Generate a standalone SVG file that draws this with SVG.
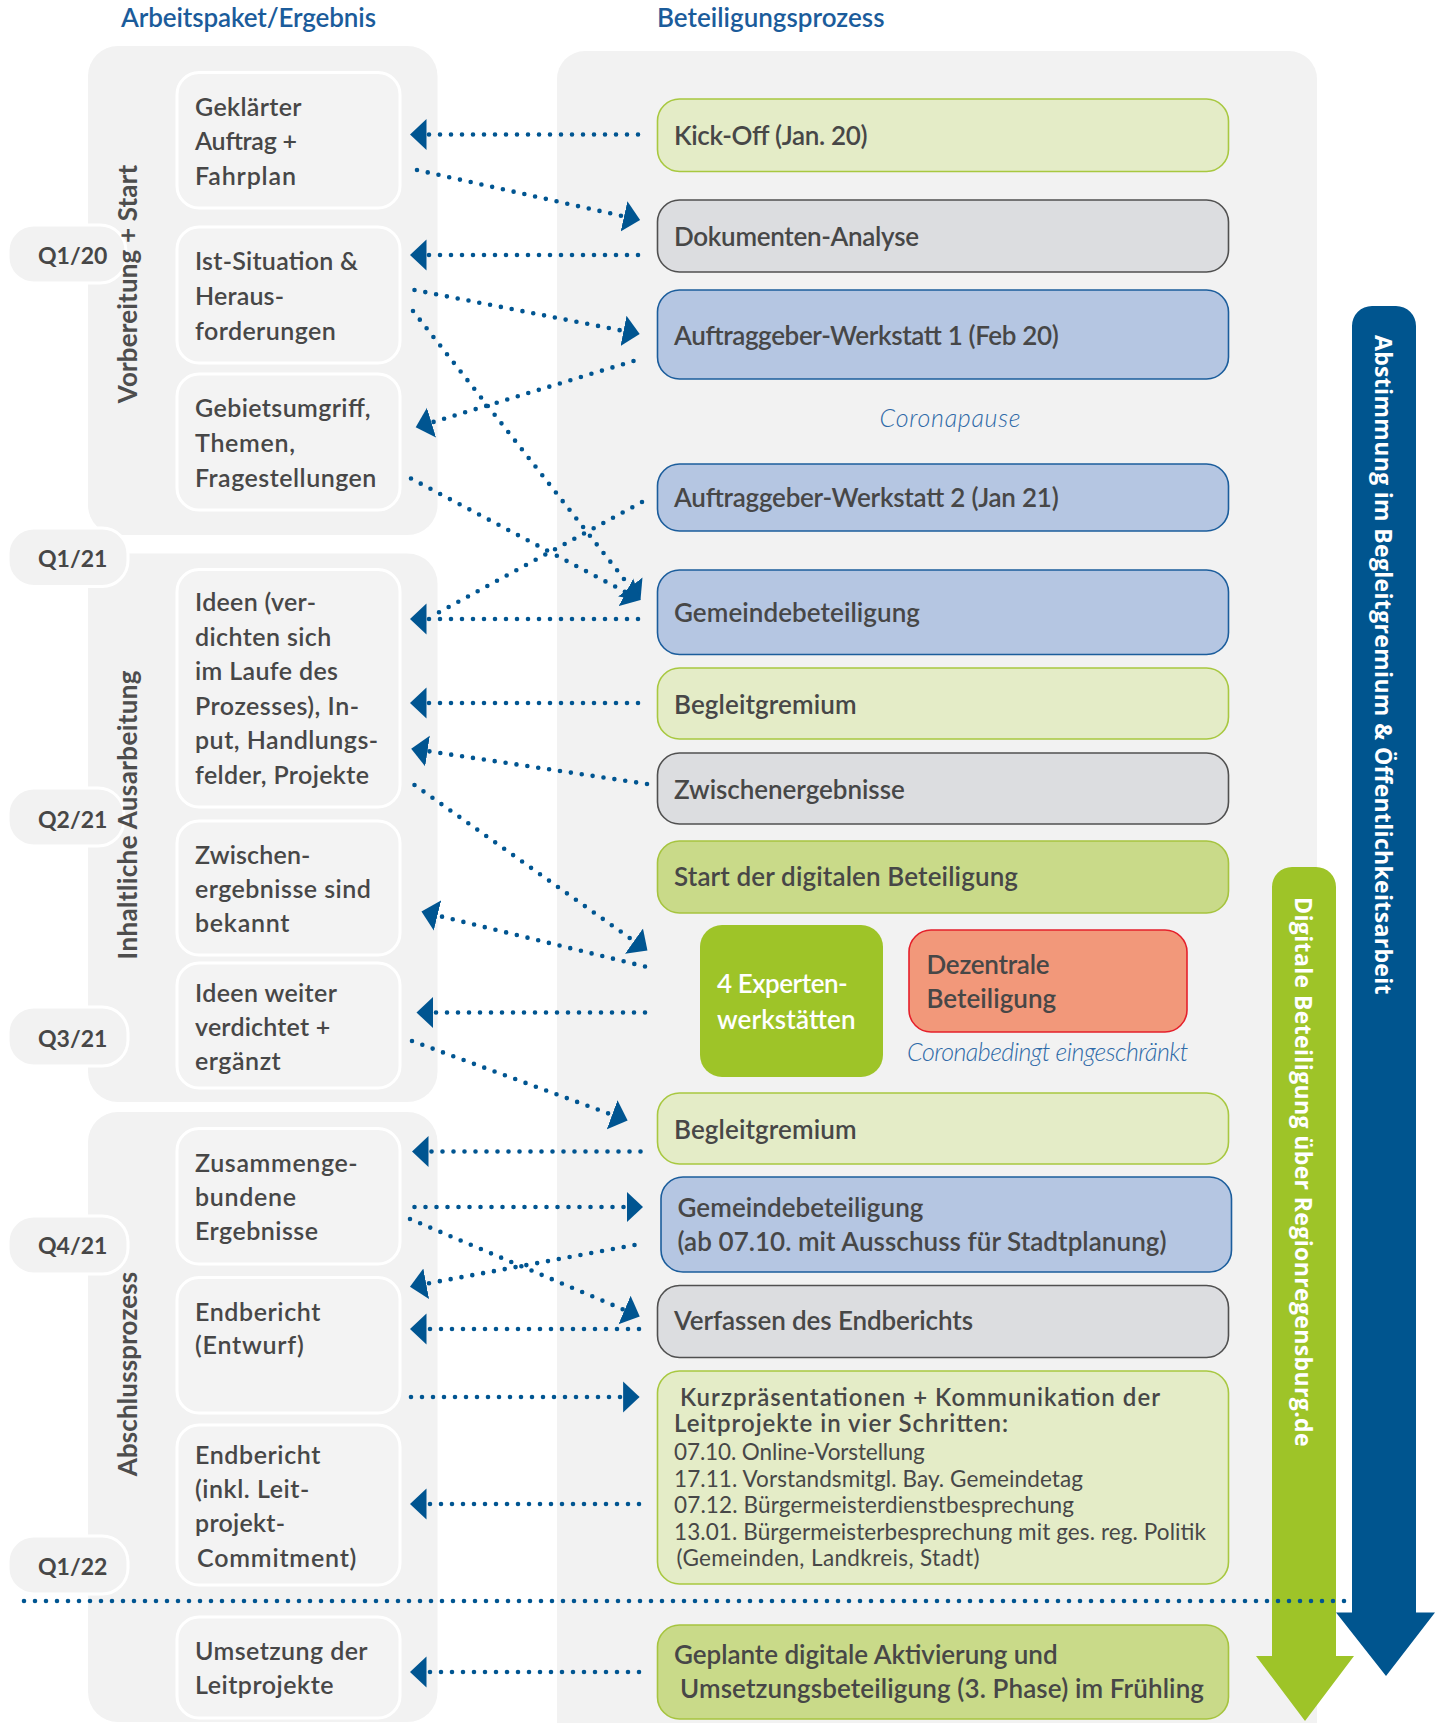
<svg xmlns="http://www.w3.org/2000/svg" width="1441" height="1723" viewBox="0 0 1441 1723">
  <defs>
    <style>
      .panel { fill: #f2f2f2; }
      .tab { fill: #f2f2f2; stroke: #ffffff; stroke-width: 3; }
      .lbox { fill: #f3f3f3; stroke: #ffffff; stroke-width: 3; }
      .lgreen { fill: #e4ecc7; stroke: #a8c840; stroke-width: 1.6; }
      .mgreen { fill: #c9da89; stroke: #a6c43f; stroke-width: 1.6; }
      .dgreen { fill: #9ec428; }
      .grey { fill: #dcdde0; stroke: #505050; stroke-width: 1.6; }
      .blue { fill: #b5c6e2; stroke: #1b5d9c; stroke-width: 1.6; }
      .salmon { fill: #f2987a; stroke: #e5202b; stroke-width: 1.6; }
      text { font-family: Lato, "Liberation Sans", sans-serif; fill: #474747; }
      .title { font-size: 26px; font-weight: 600; fill: #1b5c9b; }
      .lt { font-size: 25px; font-weight: 600; }
      .rt { font-size: 26px; font-weight: 600; }
      .rb { font-size: 24px; font-weight: 600; }
      .q { font-size: 23px; font-weight: 700; }
      .phase { font-size: 26px; font-weight: 700; fill: #4d4d4d; }
      .small { font-size: 22.5px; font-weight: 400; }
      .note { font-size: 25px; font-weight: 300; font-style: italic; fill: #2f6aa8; }
      .white { fill: #ffffff; }
      .band { font-family: "Open Sans", Lato, sans-serif; font-size: 23px; font-weight: 700; fill: #ffffff; }
      .dot { fill: none; stroke: #005591; stroke-width: 4.6; stroke-linecap: round; stroke-dasharray: 0 11; }
    </style>
    <marker id="ah" markerUnits="userSpaceOnUse" viewBox="0 0 17 32" markerWidth="17" markerHeight="32" refX="0.5" refY="16" orient="auto">
      <path d="M0,0.5 L16.5,16 L0,31.5 z" fill="#005591"/>
    </marker>
  </defs>

  <!-- column headings -->
  <text class="title" x="121" y="27" textLength="255">Arbeitspaket/Ergebnis</text>
  <text class="title" x="657" y="27" textLength="227.5">Beteiligungsprozess</text>

  <!-- background panels -->
  <rect class="panel" x="88" y="46" width="349.5" height="489" rx="30"/>
  <rect class="panel" x="88" y="553.5" width="349.5" height="548.5" rx="30"/>
  <rect class="panel" x="88" y="1112" width="349.5" height="610" rx="30"/>
  <rect class="panel" x="557" y="51" width="760" height="1700" rx="28"/>

  <!-- quarter tabs -->
  <g id="quarters">
    <rect class="tab" x="8" y="225" width="118" height="58" rx="26"/>
    <text class="q" x="38" y="264">Q1/20</text>
    <rect class="tab" x="8" y="528" width="120" height="58.5" rx="26"/>
    <text class="q" x="38" y="567">Q1/21</text>
    <rect class="tab" x="8" y="788" width="116" height="58" rx="26"/>
    <text class="q" x="38" y="827.5">Q2/21</text>
    <rect class="tab" x="8" y="1007" width="120" height="59" rx="26"/>
    <text class="q" x="38" y="1047">Q3/21</text>
    <rect class="tab" x="8" y="1216" width="120" height="58" rx="26"/>
    <text class="q" x="38" y="1254">Q4/21</text>
    <rect class="tab" x="8" y="1536" width="120" height="58" rx="26"/>
    <text class="q" x="38" y="1575">Q1/22</text>
  </g>

  <!-- phase labels -->
  <g id="phases">
    <text class="phase" transform="translate(137 284) rotate(-90)" text-anchor="middle" textLength="238.5">Vorbereitung + Start</text>
    <text class="phase" transform="translate(137 815) rotate(-90)" text-anchor="middle" textLength="289">Inhaltliche Ausarbeitung</text>
    <text class="phase" transform="translate(137 1374) rotate(-90)" text-anchor="middle" textLength="204.5">Abschlussprozess</text>
  </g>

  <!-- work packages / results -->
  <g id="wp-auftrag">
    <rect class="lbox" x="177" y="72.5" width="223" height="135.5" rx="22"/>
    <text class="lt" x="195" y="115.5" textLength="106.5">Geklärter</text>
    <text class="lt" x="195" y="150" textLength="102">Auftrag +</text>
    <text class="lt" x="195" y="184.5" textLength="101">Fahrplan</text>
  </g>
  <g id="wp-ist">
    <rect class="lbox" x="177" y="227" width="223" height="136" rx="22"/>
    <text class="lt" x="195" y="269.5" textLength="163">Ist-Situation &amp;</text>
    <text class="lt" x="195" y="304.5" textLength="89">Heraus-</text>
    <text class="lt" x="195" y="339.5" textLength="140.7">forderungen</text>
  </g>
  <g id="wp-gebiet">
    <rect class="lbox" x="177" y="374" width="223" height="136" rx="22"/>
    <text class="lt" x="195" y="417" textLength="175.4">Gebietsumgriff,</text>
    <text class="lt" x="195" y="452" textLength="100">Themen,</text>
    <text class="lt" x="195" y="486.5" textLength="181.4">Fragestellungen</text>
  </g>
  <g id="wp-ideen">
    <rect class="lbox" x="177" y="569.5" width="223" height="237.5" rx="22"/>
    <text class="lt" x="195" y="611" textLength="121">Ideen (ver-</text>
    <text class="lt" x="195" y="645.5" textLength="136.3">dichten sich</text>
    <text class="lt" x="195" y="680" textLength="143">im Laufe des</text>
    <text class="lt" x="195" y="714.5" textLength="164">Prozesses), In-</text>
    <text class="lt" x="195" y="749" textLength="183.2">put, Handlungs-</text>
    <text class="lt" x="195" y="783.5" textLength="174">felder, Projekte</text>
  </g>
  <g id="wp-zwischen">
    <rect class="lbox" x="177" y="821" width="223" height="134" rx="22"/>
    <text class="lt" x="195" y="864" textLength="115.4">Zwischen-</text>
    <text class="lt" x="195" y="898" textLength="175.8">ergebnisse sind</text>
    <text class="lt" x="195" y="932" textLength="94.5">bekannt</text>
  </g>
  <g id="wp-verdichtet">
    <rect class="lbox" x="177" y="963" width="223" height="125" rx="22"/>
    <text class="lt" x="195" y="1002" textLength="141.9">Ideen weiter</text>
    <text class="lt" x="195" y="1036" textLength="135.2">verdichtet +</text>
    <text class="lt" x="195" y="1070" textLength="85.7">ergänzt</text>
  </g>
  <g id="wp-zusammen">
    <rect class="lbox" x="177" y="1128.5" width="223" height="135.5" rx="22"/>
    <text class="lt" x="195" y="1171.5" textLength="162.7">Zusammenge-</text>
    <text class="lt" x="195" y="1206" textLength="101">bundene</text>
    <text class="lt" x="195" y="1240" textLength="123">Ergebnisse</text>
  </g>
  <g id="wp-entwurf">
    <rect class="lbox" x="177" y="1277.5" width="223" height="135.5" rx="22"/>
    <text class="lt" x="195" y="1320.5" textLength="125.3">Endbericht</text>
    <text class="lt" x="195" y="1354" textLength="108.8">(Entwurf)</text>
  </g>
  <g id="wp-endbericht">
    <rect class="lbox" x="177" y="1425" width="223" height="160" rx="22"/>
    <text class="lt" x="195" y="1463.5" textLength="125.3">Endbericht</text>
    <text class="lt" x="195" y="1498" textLength="114.3">(inkl. Leit-</text>
    <text class="lt" x="195" y="1532" textLength="90">projekt-</text>
    <text class="lt" x="197" y="1567" textLength="159.4">Commitment)</text>
  </g>
  <g id="wp-umsetzung">
    <rect class="lbox" x="177" y="1617" width="223" height="101" rx="22"/>
    <text class="lt" x="195" y="1660" textLength="172.6">Umsetzung der</text>
    <text class="lt" x="195" y="1694" textLength="138.5">Leitprojekte</text>
  </g>

  <!-- participation steps -->
  <g id="kickoff">
    <rect class="lgreen" x="657.5" y="99" width="571" height="72.5" rx="22"/>
    <text class="rt" x="674" y="144.5" textLength="193.5">Kick-Off (Jan. 20)</text>
  </g>
  <g id="dokumente">
    <rect class="grey" x="657.5" y="200" width="571" height="72" rx="22"/>
    <text class="rt" x="674" y="245.5" textLength="245">Dokumenten-Analyse</text>
  </g>
  <g id="werkstatt1">
    <rect class="blue" x="657.5" y="290" width="571" height="89" rx="22"/>
    <text class="rt" x="674" y="344.5" textLength="384.7">Auftraggeber-Werkstatt 1 (Feb 20)</text>
  </g>
  <text class="note" x="950" y="427" text-anchor="middle" textLength="141">Coronapause</text>
  <g id="werkstatt2">
    <rect class="blue" x="657.5" y="464" width="571" height="67" rx="22"/>
    <text class="rt" x="674" y="507" textLength="384.7">Auftraggeber-Werkstatt 2 (Jan 21)</text>
  </g>
  <g id="gemeinde1">
    <rect class="blue" x="657.5" y="570" width="571" height="84.5" rx="22"/>
    <text class="rt" x="674" y="622" textLength="246">Gemeindebeteiligung</text>
  </g>
  <g id="begleit1">
    <rect class="lgreen" x="657.5" y="668" width="571" height="71" rx="22"/>
    <text class="rt" x="674" y="714" textLength="182.5">Begleitgremium</text>
  </g>
  <g id="zwischenergebnisse">
    <rect class="grey" x="657.5" y="753" width="571" height="71" rx="22"/>
    <text class="rt" x="674" y="799" textLength="230.8">Zwischenergebnisse</text>
  </g>
  <g id="digital-start">
    <rect class="mgreen" x="657.5" y="841" width="571" height="72" rx="22"/>
    <text class="rt" x="674" y="886" textLength="344">Start der digitalen Beteiligung</text>
  </g>
  <g id="experten">
    <rect class="dgreen" x="700" y="925" width="183" height="152" rx="22"/>
    <text class="rt white" x="717" y="993" textLength="130.8">4 Experten-</text>
    <text class="rt white" x="717" y="1028.5" textLength="138.5">werkstätten</text>
  </g>
  <g id="dezentral">
    <rect class="salmon" x="909" y="930" width="278" height="102" rx="22"/>
    <text class="rt" x="926.5" y="973.5" textLength="123">Dezentrale</text>
    <text class="rt" x="926.5" y="1008" textLength="129.7">Beteiligung</text>
  </g>
  <text class="note" x="907" y="1061" textLength="281.4">Coronabedingt eingeschränkt</text>
  <g id="begleit2">
    <rect class="lgreen" x="657.5" y="1093" width="571" height="71" rx="22"/>
    <text class="rt" x="674" y="1139" textLength="182.5">Begleitgremium</text>
  </g>
  <g id="gemeinde2">
    <rect class="blue" x="661" y="1177" width="570.5" height="95" rx="22"/>
    <text class="rt" x="677.5" y="1217" textLength="246">Gemeindebeteiligung</text>
    <text class="rt" x="677.5" y="1251" textLength="489">(ab 07.10. mit Ausschuss für Stadtplanung)</text>
  </g>
  <g id="endbericht-verfassen">
    <rect class="grey" x="657.5" y="1285.5" width="571" height="72" rx="22"/>
    <text class="rt" x="674" y="1330" textLength="299">Verfassen des Endberichts</text>
  </g>
  <g id="kurzpraesentationen">
    <rect class="lgreen" x="657.5" y="1371" width="571" height="213" rx="22"/>
    <text class="rb" x="680" y="1405.5" textLength="480">Kurzpräsentationen + Kommunikation der</text>
    <text class="rb" x="674" y="1432" textLength="334">Leitprojekte in vier Schritten:</text>
    <text class="small" x="674" y="1459.5" textLength="250.6">07.10. Online-Vorstellung</text>
    <text class="small" x="674" y="1486.5" textLength="409">17.11. Vorstandsmitgl. Bay. Gemeindetag</text>
    <text class="small" x="674" y="1513" textLength="400">07.12. Bürgermeisterdienstbesprechung</text>
    <text class="small" x="674" y="1539.5" textLength="532">13.01. Bürgermeisterbesprechung mit ges. reg. Politik</text>
    <text class="small" x="676.5" y="1566" textLength="303">(Gemeinden, Landkreis, Stadt)</text>
  </g>
  <g id="aktivierung">
    <rect class="mgreen" x="657.5" y="1625" width="571" height="94" rx="22"/>
    <text class="rt" x="674" y="1664" textLength="383.6">Geplante digitale Aktivierung und</text>
    <text class="rt" x="680" y="1698" textLength="524">Umsetzungsbeteiligung (3. Phase) im Frühling</text>
  </g>

  <!-- continuous tracks -->
  <g id="digital-track">
    <path d="M1272,887 a20,20 0 0 1 20,-20 h24 a20,20 0 0 1 20,20 V1656 H1354 L1305,1721 L1256,1656 H1272 Z" fill="#9ec428"/>
    <text class="band" transform="translate(1295 897) rotate(90)" textLength="549.6">Digitale Beteiligung über Regionregensburg.de</text>
  </g>

  <!-- connectors -->
  <g id="connectors">
    <path class="dot" d="M638,134.5 L426,134.5" marker-end="url(#ah)"/>
    <path class="dot" d="M417,170 L624.5,216.5" marker-end="url(#ah)"/>
    <path class="dot" d="M638,255 L426,255" marker-end="url(#ah)"/>
    <path class="dot" d="M414.5,290 L624,331" marker-end="url(#ah)"/>
    <path class="dot" d="M413,311 L630.6,587.4" marker-end="url(#ah)"/>
    <path class="dot" d="M411,478.5 L626.4,592.5" marker-end="url(#ah)"/>
    <path class="dot" d="M633.5,361 L431,422.7" marker-end="url(#ah)"/>
    <path class="dot" d="M642,502 L432,616"/>
    <path class="dot" d="M638,619 L426,619" marker-end="url(#ah)"/>
    <path class="dot" d="M638,703 L426,703" marker-end="url(#ah)"/>
    <path class="dot" d="M647,784 L427,751" marker-end="url(#ah)"/>
    <path class="dot" d="M414.5,785 L634.4,941.3" marker-end="url(#ah)"/>
    <path class="dot" d="M645,966.5 L437,915.4" marker-end="url(#ah)"/>
    <path class="dot" d="M645,1012.5 L432.5,1012.5" marker-end="url(#ah)"/>
    <path class="dot" d="M412,1041 L612.6,1115" marker-end="url(#ah)"/>
    <path class="dot" d="M640.5,1151.5 L428,1151.5" marker-end="url(#ah)"/>
    <path class="dot" d="M414.5,1207 L627,1207" marker-end="url(#ah)"/>
    <path class="dot" d="M410,1219 L625,1310.2" marker-end="url(#ah)"/>
    <path class="dot" d="M634.5,1245 L425.7,1283.8" marker-end="url(#ah)"/>
    <path class="dot" d="M639,1329 L426,1329" marker-end="url(#ah)"/>
    <path class="dot" d="M411,1397 L623.6,1397" marker-end="url(#ah)"/>
    <path class="dot" d="M639,1504 L426,1504" marker-end="url(#ah)"/>
    <path class="dot" d="M639,1672 L426,1672" marker-end="url(#ah)"/>
    <path class="dot" d="M24,1601 L1350,1601"/>
  </g>

  <g id="coordination-track">
    <path d="M1352,326 a20,20 0 0 1 20,-20 h24 a20,20 0 0 1 20,20 V1612.5 H1435 L1386,1676 L1336,1612.5 H1352 Z" fill="#00558f"/>
    <text class="band" transform="translate(1375 335) rotate(90)" textLength="659.5">Abstimmung im Begleitgremium &amp; Öffentlichkeitsarbeit</text>
  </g>
</svg>
